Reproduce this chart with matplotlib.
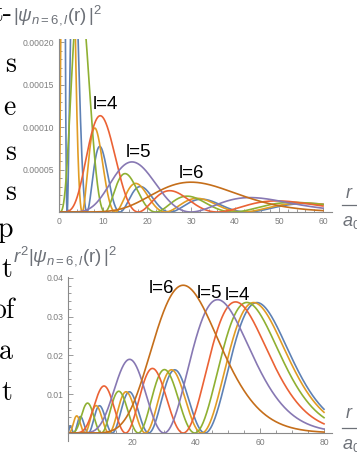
import numpy as np
import matplotlib
matplotlib.use("Agg")
import matplotlib.pyplot as plt
from matplotlib.lines import Line2D
from math import factorial

plt.rcParams['mathtext.fontset'] = 'custom'
plt.rcParams['mathtext.rm'] = 'Liberation Sans'
plt.rcParams['mathtext.it'] = 'Liberation Sans:italic'
plt.rcParams['font.family'] = ['Liberation Sans', 'DejaVu Sans']

# ---- data ----
n_quantum = 6
l_values = [0, 1, 2, 3, 4, 5]
colors = ['#5E81B5', '#E19C24', '#8FB032', '#EB6235', '#8778B3', '#C56E1A']
top_r_max = 60
bottom_r_max = 80
top_labels = ['l=4', 'l=5', 'l=6']
top_label_x = [10.45, 18.0, 30.2]
top_label_y = [1.265e-4, 7.06e-5, 4.5e-5]
bottom_labels = ['l=6', 'l=5', 'l=4']
bottom_label_x = [29.1, 44.1, 53.0]
bottom_label_y = [0.0374, 0.0361, 0.0356]
top_xticks = [0, 10, 20, 30, 40, 50, 60]
top_yticks = [0.00005, 0.00010, 0.00015, 0.00020]
bottom_xticks = [20, 40, 60, 80]
bottom_yticks = [0.01, 0.02, 0.03, 0.04]
doc_words = ['t-', 's', 'e', 's', 's', 'p', 't', 'of', 'a', 't']
doc_word_y = [14, 65, 108, 153, 193, 230, 270, 311, 352, 393]
doc_word_right = [12, 16, 16, 16, 16, 13, 12, 15, 13, 12]


def laguerre(k, a, x):
    if k == 0:
        return np.ones_like(x)
    lm1 = np.ones_like(x)
    l0 = 1 + a - x
    for j in range(1, k):
        lm1, l0 = l0, ((2 * j + 1 + a - x) * l0 - (j + a) * lm1) / (j + 1)
    return l0


def radial(n, l, r):
    rho = 2 * r / n
    norm = np.sqrt((2 / n) ** 3 * factorial(n - l - 1) / (2 * n * factorial(n + l)))
    return norm * np.exp(-rho / 2) * rho ** l * laguerre(n - l - 1, 2 * l + 1, rho)


W, H = 357, 453
fig = plt.figure(figsize=(W / 100, H / 100), dpi=100)


def frac_rect(x0, x1, ytop, ybot):
    return [x0 / W, 1 - ybot / H, (x1 - x0) / W, (ybot - ytop) / H]


axis_col = '#8a8a8a'
tick_col = '#7d7d7d'


def style(ax):
    for s in ['top', 'right']:
        ax.spines[s].set_visible(False)
    ax.spines['bottom'].set_position(('data', 0))
    ax.spines['left'].set_position(('data', 0))
    for s in ['left', 'bottom']:
        ax.spines[s].set_color(axis_col)
        ax.spines[s].set_linewidth(0.8)
    ax.tick_params(which='both', direction='in', colors=axis_col, labelcolor=tick_col,
                   labelsize=6.2, width=0.6)
    ax.tick_params(which='major', length=3.5, pad=3.5)
    ax.tick_params(which='minor', length=2)
    ax.patch.set_alpha(0)


# top panel
ax1 = fig.add_axes(frac_rect(59, 331.8, 39.5, 212))
r1 = np.linspace(0, top_r_max, 3000)
for l, c in zip(l_values, colors):
    ax1.plot(r1, radial(n_quantum, l, r1) ** 2, color=c, lw=1.2, clip_on=True)
ax1.set_xlim(0, 62)
ax1.set_ylim(0, 0.000203)
style(ax1)
ax1.set_xticks(top_xticks)
ax1.set_xticks(np.arange(0, 62, 2), minor=True)
ax1.set_yticks(top_yticks)
ax1.set_yticklabels(['%.5f' % v for v in top_yticks])
ax1.set_yticks(np.arange(0.00001, 0.000203, 0.00001), minor=True)
for t, x, y in zip(top_labels, top_label_x, top_label_y):
    ax1.text(x, y, t, fontsize=13.5, ha='center', va='center', color='black')

# bottom panel
ax2 = fig.add_axes(frac_rect(68, 332, 276.8, 440.75))
r2 = np.linspace(0, bottom_r_max, 3000)
for l, c in zip(l_values, colors):
    ax2.plot(r2, r2 ** 2 * radial(n_quantum, l, r2) ** 2, color=c, lw=1.2)
ax2.set_xlim(0, 82.5)
ax2.set_ylim(-0.002, 0.0403)
style(ax2)
ax2.set_xticks(bottom_xticks)
ax2.set_xticks(np.arange(0, 82.5, 5), minor=True)
ax2.set_yticks(bottom_yticks)
ax2.set_yticklabels(['%.2f' % v for v in bottom_yticks])
ax2.set_yticks(np.arange(0.002, 0.0403, 0.002), minor=True)
for t, x, y in zip(bottom_labels, bottom_label_x, bottom_label_y):
    ax2.text(x, y, t, fontsize=13.5, ha='center', va='center', color='black')

# axis labels
lab_col = '#6d7178'
fig.text(13 / W, 1 - 15 / H, r'$|\psi_{n=6,l}(\mathrm{r})\,|^2$', fontsize=13.5,
         color=lab_col, ha='left', va='center')
fig.text(13 / W, 1 - 256 / H, r'$r^2|\psi_{n=6,l}(\mathrm{r})\,|^2$', fontsize=13.5,
         color=lab_col, ha='left', va='center')

for ry, ly, ay in [(193, 205, 222), (413, 428, 446)]:
    fig.text(349 / W, 1 - ry / H, r'$r$', fontsize=13, color=lab_col, ha='center', va='center')
    fig.add_artist(Line2D([342 / W, 1.0], [1 - ly / H, 1 - ly / H], color=lab_col, lw=0.9,
                          transform=fig.transFigure))
    fig.text(342 / W, 1 - ay / H, r'$a_0$', fontsize=13, color=lab_col, ha='left', va='center')

# fragments of the surrounding document text
for w, y, xr in zip(doc_words, doc_word_y, doc_word_right):
    fig.text(xr / W, 1 - y / H, w, fontsize=20, family='cmr10', ha='right', va='center',
             color='black')

fig.savefig('out.png', dpi=100)
